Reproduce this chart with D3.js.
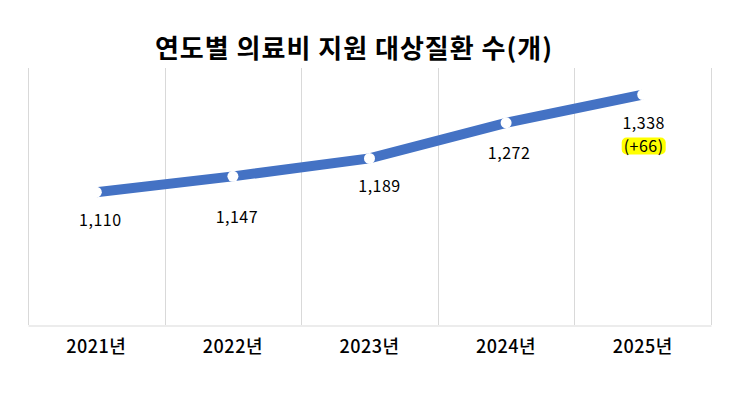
<!DOCTYPE html>
<html>
<head>
<meta charset="utf-8">
<script src="https://cdn.jsdelivr.net/npm/d3@7"></script>
<style>
  body { margin: 0; background: #fff; }
  svg { display: block; font-family: "Noto Sans CJK KR", "Noto Sans", sans-serif; }
</style>
</head>
<body>
<svg id="chart" width="734" height="395"></svg>
<script>
var years = ["2021년", "2022년", "2023년", "2024년", "2025년"];
var counts = [1110, 1147, 1189, 1272, 1338];
var labels = ["1,110", "1,147", "1,189", "1,272", "1,338"];
var extra = ["", "", "", "", "(+66)"];

var svg = d3.select("#chart");
var mLeft = 28, mRight = 711, mTop = 68, mBottom = 325;

var x = d3.scaleBand().domain(years).range([mLeft, mRight]).padding(0);
var y = d3.scaleLinear().domain([800, 1400]).range([mBottom, mTop]);

// 세로 구분선
var bounds = years.map(function(d) { return x(d); }).concat([mRight]);
svg.selectAll("line.grid")
  .data(bounds)
  .enter()
  .append("line")
  .attr("class", "grid")
  .attr("x1", d => Math.round(d) + 0.5).attr("x2", d => Math.round(d) + 0.5)
  .attr("y1", mTop).attr("y2", mBottom)
  .style("stroke", "#d9d9d9").style("stroke-width", 1);

// x축
var xAxis = svg.append("g")
  .attr("transform", "translate(0," + (mBottom + 0.5) + ")")
  .attr("font-family", null)
  .call(d3.axisBottom(x).tickSize(0).tickPadding(15));
xAxis.select(".domain").style("stroke", "#d9d9d9");
xAxis.selectAll("text")
  .style("font-family", "'Noto Sans CJK KR', sans-serif")
  .style("font-size", "18px").style("font-weight", "500").style("fill", "#000")
  .style("letter-spacing", "0.5px");

var cx = d => x(d) + x.bandwidth() / 2;
var pts = years.map(function(d, i) { return { year: d, v: counts[i], lab: labels[i], ex: extra[i] }; });

svg.append("path")
  .datum(pts)
  .attr("d", d3.line().x(d => cx(d.year)).y(d => y(d.v)))
  .style("fill", "none").style("stroke", "#4472C4").style("stroke-width", 10)
  .style("stroke-linecap", "butt");

svg.selectAll("circle")
  .data(pts)
  .enter()
  .append("circle")
  .attr("cx", d => cx(d.year)).attr("cy", d => y(d.v)).attr("r", 5.5)
  .style("fill", "#fff");

// 라벨 위치 미세조정 (원본 배치 기준)
var nudgeX = [4, 4, 10, 3, 1];
var nudgeY = [0, 13, 0, 2, 0];

svg.selectAll("text.val")
  .data(pts)
  .enter()
  .append("text")
  .attr("class", "val")
  .attr("x", (d, i) => cx(d.year) + nudgeX[i]).attr("y", (d, i) => y(d.v) + 34 + nudgeY[i])
  .attr("text-anchor", "middle")
  .style("font-size", "16px").style("fill", "#000").style("letter-spacing", "0.5px")
  .text(d => d.lab);

// 증가분 강조
var last = pts[pts.length - 1];
svg.append("rect")
  .attr("x", cx(last.year) - 21).attr("y", y(last.v) + 43)
  .attr("width", 44).attr("height", 17).attr("rx", 5)
  .style("fill", "#ffff00");
svg.append("text")
  .attr("x", cx(last.year) + 1).attr("y", y(last.v) + 57)
  .attr("text-anchor", "middle")
  .style("font-size", "16px").style("fill", "#000").style("letter-spacing", "0.5px")
  .text(last.ex);

svg.append("text")
  .attr("x", 354).attr("y", 58)
  .attr("text-anchor", "middle")
  .style("font-size", "26px").style("font-weight", "bold").style("fill", "#000")
  .style("letter-spacing", "1px")
  .text("연도별 의료비 지원 대상질환 수(개)");
</script>
</body>
</html>
